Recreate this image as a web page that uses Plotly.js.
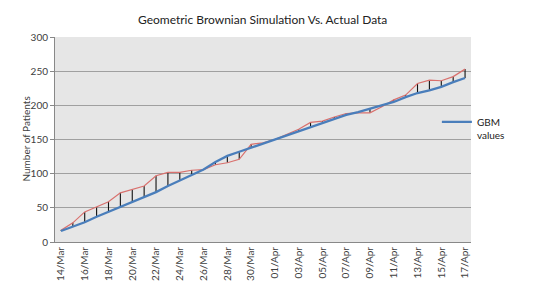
<!DOCTYPE html>
<html>
<head>
<meta charset="utf-8">
<script src="https://cdn.plot.ly/plotly-3.0.1.min.js"></script>
<style>html,body{margin:0;padding:0;background:#fff;}#chart{width:536px;height:302px;}</style>
</head>
<body>
<div id="chart"></div>
<script>
const dates = ["14/Mar","15/Mar","16/Mar","17/Mar","18/Mar","19/Mar","20/Mar","21/Mar","22/Mar","23/Mar",
  "24/Mar","25/Mar","26/Mar","27/Mar","28/Mar","29/Mar","30/Mar","31/Mar","01/Apr","02/Apr",
  "03/Apr","04/Apr","05/Apr","06/Apr","07/Apr","08/Apr","09/Apr","10/Apr","11/Apr","12/Apr",
  "13/Apr","14/Apr","15/Apr","16/Apr","17/Apr"];
const actualValues = [17,28,44,51,59,72,77,82,97,102,102,105,106,113,116,121,143,145,150,158,
  165,175,177,183,188,189,189,198,208,215,232,237,236,242,253];
const gbmValues = [16,22,29,37,44,52,59,66,73,82,90,99,106,117,126,132,138,144,150,156,
  162,168,175,180,186,190,195,199,205,212,218,222,227,234,240];
const tickLabels = ["14/Mar","16/Mar","18/Mar","20/Mar","22/Mar","24/Mar","26/Mar","28/Mar","30/Mar",
  "01/Apr","03/Apr","05/Apr","07/Apr","09/Apr","11/Apr","13/Apr","15/Apr","17/Apr"];
const yTicks = [0,50,100,150,200,250,300];

const FONT = "Lato, 'Open Sans', sans-serif";

// high-low lines between the two series, drawn as error bars on the actual series
const up = actualValues.map((a,i)=>Math.max(0, gbmValues[i]-a));
const down = actualValues.map((a,i)=>Math.max(0, a-gbmValues[i]));

const traces = [
  {
    x: dates, y: actualValues, type: 'scatter', mode: 'lines', name: 'Actual',
    line: {color: '#d9706d', width: 1.2}, showlegend: false,
    error_y: {type: 'data', symmetric: false, array: up, arrayminus: down,
      color: '#111111', thickness: 1.1, width: 0}
  },
  {
    x: dates, y: gbmValues, type: 'scatter', mode: 'lines', name: 'GBM<br>values',
    line: {color: '#4a7ebb', width: 2.25}
  }
];

const layout = {
  width: 536, height: 302,
  margin: {l: 55, r: 65, t: 37, b: 60, pad: 0},
  paper_bgcolor: '#ffffff', plot_bgcolor: '#e6e6e6',
  font: {family: FONT, size: 10, color: '#404040'},
  title: {text: 'Geometric Brownian Simulation Vs. Actual Data', font: {family: FONT, size: 12, color: '#222222'},
    x: 0.49, xanchor: 'center', y: 0.935, yanchor: 'middle', xref: 'container', yref: 'container'},
  xaxis: {
    type: 'category', range: [-0.5, 34.5], tickmode: 'array', tickvals: tickLabels, ticktext: tickLabels,
    tickangle: -90, showgrid: false, zeroline: false, showline: true, linecolor: '#888888', linewidth: 1,
    ticks: '', ticklen: 0, tickfont: {family: FONT, size: 10, color: '#404040'}, fixedrange: true
  },
  yaxis: {
    range: [0, 300], tickmode: 'array', tickvals: yTicks, showgrid: true, gridcolor: '#a0a0a0', gridwidth: 1,
    zeroline: false, showline: true, linecolor: '#888888', linewidth: 1, ticks: 'outside', ticklen: 4,
    tickcolor: '#888888', tickfont: {family: FONT, size: 10, color: '#404040'}, fixedrange: true
  },
  showlegend: true,
  legend: {x: 0.918, xanchor: 'left', y: 0.65, yanchor: 'top', bgcolor: 'rgba(0,0,0,0)',
    font: {family: FONT, size: 10, color: '#222222'}, valign: 'top', itemwidth: 30, borderwidth: 0},
  annotations: [
    {text: 'Number of Patients', xref: 'paper', yref: 'paper', x: -0.072, y: 0.5, xanchor: 'center', yanchor: 'middle',
     textangle: -90, showarrow: false, font: {family: FONT, size: 10, color: '#404040'}}
  ]
};

Plotly.newPlot('chart', traces, layout, {staticPlot: true, displayModeBar: false});
</script>
</body>
</html>
